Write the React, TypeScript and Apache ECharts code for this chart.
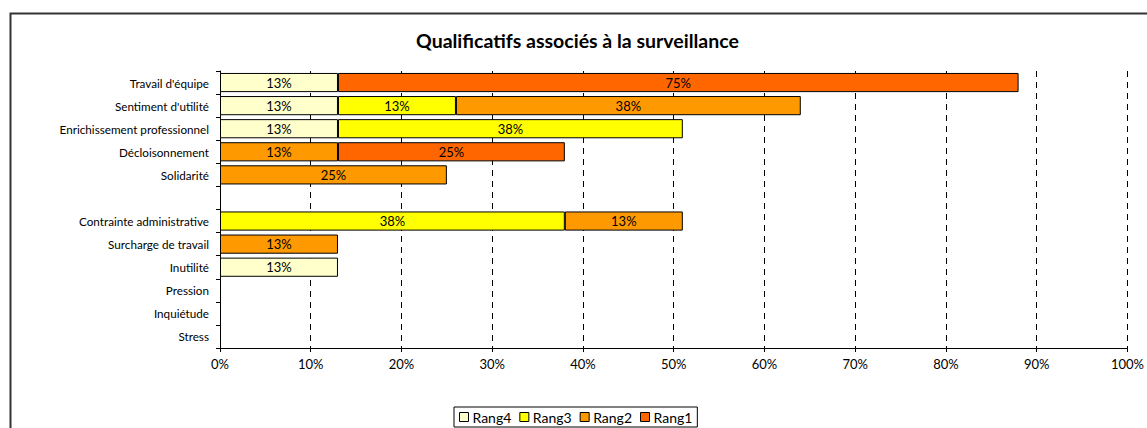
import React, { useEffect, useRef } from "react";
import * as echarts from "echarts";

const categories = [
  "Travail d'équipe",
  "Sentiment d'utilité",
  "Enrichissement professionnel",
  "Décloisonnement",
  "Solidarité",
  "",
  "Contrainte administrative",
  "Surcharge de travail",
  "Inutilité",
  "Pression",
  "Inquiétude",
  "Stress",
];

const rang4 = [13, 13, 13, null, null, null, null, null, 13, null, null, null];
const rang3 = [null, 13, 38, null, null, null, 38, null, null, null, null, null];
const rang2 = [null, 38, null, 13, 25, null, 13, 13, null, null, null, null];
const rang1 = [75, null, null, 25, null, null, null, null, null, null, null, null];

const seriesNames = ["Rang4", "Rang3", "Rang2", "Rang1"];
const seriesColors = ["#FFFFCC", "#FFFF00", "#FF9900", "#FF6600"];
const seriesData = [rang4, rang3, rang2, rang1];

const xTicks = [0, 10, 20, 30, 40, 50, 60, 70, 80, 90, 100];

const FONT = "Lato, sans-serif";

export default function App() {
  const ref = useRef<HTMLDivElement>(null);
  useEffect(() => {
    if (!ref.current) return;
    const chart = echarts.init(ref.current, null, { renderer: "svg" });
    chart.setOption({
      animation: false,
      backgroundColor: "#fff",
      textStyle: { fontFamily: FONT },
      title: {
        text: "Qualificatifs associés à la surveillance",
        left: 416,
        top: 30,
        padding: 0,
        textStyle: { fontFamily: FONT, fontSize: 19.5, fontWeight: "bold", color: "#000" },
      },
      graphic: [
        {
          type: "rect",
          shape: { x: 10.5, y: 13.5, width: 1160, height: 440 },
          style: { fill: "none", stroke: "#333", lineWidth: 2 },
          silent: true,
          z: -1,
        },
      ],
      legend: {
        data: seriesNames,
        left: 454,
        top: 407,
        padding: [3, 5, 3, 5],
        borderColor: "#000",
        borderWidth: 1,
        itemWidth: 9,
        itemHeight: 9,
        itemGap: 8,
        icon: "rect",
        itemStyle: { borderColor: "#000", borderWidth: 1 },
        textStyle: { fontFamily: FONT, fontSize: 14, color: "#000", padding: [0, 0, 0, -1] },
      },
      grid: { left: 220, right: 16, top: 71, bottom: 80, containLabel: false },
      xAxis: {
        type: "value",
        min: 0,
        max: 100,
        interval: 10,
        axisLine: { show: true, lineStyle: { color: "#000", width: 1 } },
        axisTick: { show: true, length: 4, lineStyle: { color: "#000" } },
        axisLabel: {
          formatter: (v: number) => (xTicks.includes(v) ? v + "%" : ""),
          color: "#000",
          fontSize: 13,
          fontFamily: FONT,
          margin: 9,
        },
        splitLine: { show: true, lineStyle: { color: "#000", type: [6, 5], width: 1 } },
      },
      yAxis: {
        type: "category",
        data: categories,
        inverse: true,
        axisLine: { show: true, lineStyle: { color: "#000", width: 1 } },
        axisTick: { show: true, length: 4, lineStyle: { color: "#000" } },
        axisLabel: { color: "#000", fontSize: 11.7, fontFamily: FONT, margin: 11 },
        splitLine: { show: false },
      },
      series: seriesNames.map((name, i) => ({
        name,
        type: "bar",
        stack: "total",
        data: seriesData[i],
        barCategoryGap: "17%",
        itemStyle: { color: seriesColors[i], borderColor: "#000", borderWidth: 1 },
        label: {
          show: true,
          position: "inside",
          formatter: (p: any) => (p.value ? p.value + "%" : ""),
          color: "#000",
          fontSize: 13,
          fontFamily: FONT,
        },
      })),
    });
    return () => chart.dispose();
  }, []);
  return (
    <div
      ref={ref}
      style={{ position: "fixed", left: 0, top: 0, width: 1147, height: 428 }}
    />
  );
}
